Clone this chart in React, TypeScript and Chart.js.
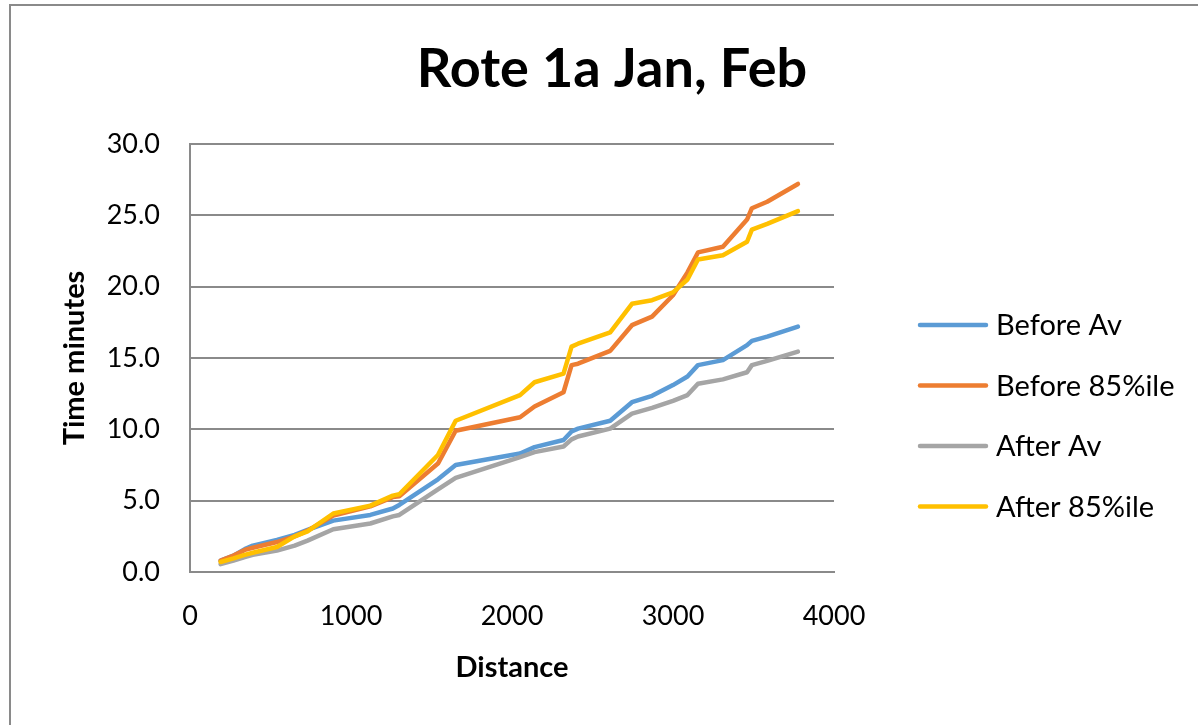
import React, { useEffect, useRef } from "react";
import { Chart, registerables } from "chart.js";

Chart.register(...registerables);

const TITLE = "Rote 1a Jan, Feb";
const X_TITLE = "Distance";
const Y_TITLE = "Time minutes";

const distance = [190, 270, 340, 390, 540, 650, 730, 890, 1120, 1260, 1300, 1540, 1650, 2050, 2140, 2320, 2370, 2410, 2610, 2745, 2870, 3000, 3090, 3155, 3310, 3460, 3490, 3585, 3776];
const beforeAv = [0.8, 1.15, 1.6, 1.85, 2.25, 2.6, 2.95, 3.6, 4.0, 4.45, 4.7, 6.5, 7.5, 8.3, 8.75, 9.25, 9.85, 10.05, 10.6, 11.9, 12.35, 13.1, 13.7, 14.5, 14.85, 15.9, 16.2, 16.5, 17.2];
const before85 = [0.8, 1.15, 1.55, 1.7, 2.1, 2.5, 2.9, 3.95, 4.6, 5.25, 5.3, 7.6, 9.9, 10.85, 11.6, 12.6, 14.5, 14.6, 15.5, 17.3, 17.9, 19.4, 21.0, 22.4, 22.8, 24.7, 25.5, 25.95, 27.2];
const afterAv = [0.55, 0.8, 1.05, 1.2, 1.5, 1.85, 2.2, 3.0, 3.4, 3.9, 4.0, 5.8, 6.6, 8.05, 8.4, 8.8, 9.3, 9.5, 10.05, 11.1, 11.5, 12.0, 12.4, 13.2, 13.5, 14.0, 14.5, 14.8, 15.45];
const after85 = [0.7, 0.95, 1.2, 1.35, 1.75, 2.5, 2.85, 4.1, 4.65, 5.35, 5.45, 8.2, 10.6, 12.4, 13.3, 13.9, 15.8, 16.0, 16.8, 18.8, 19.05, 19.6, 20.5, 21.9, 22.2, 23.15, 24.0, 24.4, 25.3];

const seriesLabels = ["Before Av", "Before 85%ile", "After Av", "After 85%ile"];
const seriesValues = [beforeAv, before85, afterAv, after85];
const seriesColors = ["#5B9BD5", "#ED7D31", "#A5A5A5", "#FFC000"];

const X_MIN = 0, X_MAX = 4000, X_STEP = 1000;
const Y_MIN = 0, Y_MAX = 30, Y_STEP = 5;

const FONT = "Lato, 'Open Sans', sans-serif";
const GRID = "#8a8a8a";

const decorPlugin = {
  id: "decor",
  afterDraw(chart: any) {
    const ctx = chart.ctx;
    ctx.save();
    // outer chart border (cropped at right/bottom)
    ctx.strokeStyle = GRID;
    ctx.lineWidth = 2;
    ctx.beginPath();
    ctx.moveTo(10, 740);
    ctx.lineTo(10, 5);
    ctx.lineTo(1210, 5);
    ctx.stroke();
    // title
    ctx.fillStyle = "#000";
    ctx.font = `bold 54px ${FONT}`;
    ctx.textAlign = "center";
    ctx.textBaseline = "middle";
    ctx.fillText(TITLE, 612, 70);
    // legend
    ctx.font = `29px ${FONT}`;
    ctx.textAlign = "left";
    ctx.lineCap = "round";
    chart.data.datasets.forEach((ds: any, i: number) => {
      const y = 325 + i * 60.5;
      ctx.strokeStyle = ds.borderColor;
      ctx.lineWidth = 4.5;
      ctx.beginPath();
      ctx.moveTo(920, y);
      ctx.lineTo(986, y);
      ctx.stroke();
      ctx.fillStyle = "#000";
      ctx.fillText(ds.label, 996, y + 1);
    });
    ctx.restore();
  },
};

export default function App() {
  const ref = useRef<HTMLCanvasElement>(null);
  useEffect(() => {
    if (!ref.current) return;
    const chart = new Chart(ref.current, {
      type: "line",
      data: {
        datasets: seriesLabels.map((label, i) => ({
          label,
          data: distance.map((d, j) => ({ x: d, y: seriesValues[i][j] })),
          borderColor: seriesColors[i],
          backgroundColor: seriesColors[i],
          borderWidth: 4.5,
          pointRadius: 0,
          tension: 0,
          borderJoinStyle: "round" as const,
          borderCapStyle: "round" as const,
          order: 4 - i,
        })),
      },
      options: {
        responsive: false,
        animation: false,
        layout: { padding: { left: 0, top: 144, right: 364, bottom: 0 } },
        plugins: { legend: { display: false }, title: { display: false }, tooltip: { enabled: false } },
        scales: {
          x: {
            type: "linear",
            min: X_MIN,
            max: X_MAX,
            afterFit: (s: any) => { s.height = 153; },
            ticks: { stepSize: X_STEP, color: "#000", font: { family: FONT, size: 27 }, padding: 28, maxRotation: 0, callback: (v: any) => String(v) },
            grid: { display: false, drawTicks: false },
            border: { display: true, color: GRID, width: 2 },
            title: { display: true, text: X_TITLE, color: "#000", font: { family: FONT, size: 29, weight: "bold" }, padding: { top: 0, bottom: 40 } },
          },
          y: {
            type: "linear",
            min: Y_MIN,
            max: Y_MAX,
            afterFit: (s: any) => { s.width = 190; },
            ticks: { stepSize: Y_STEP, color: "#000", font: { family: FONT, size: 27 }, padding: 30, callback: (v: any) => Number(v).toFixed(1) },
            grid: { color: GRID, lineWidth: 2, drawTicks: false },
            border: { display: true, color: GRID, width: 2 },
            title: { display: true, text: Y_TITLE, color: "#000", font: { family: FONT, size: 29, weight: "bold" }, padding: { top: 57, bottom: 0 } },
          },
        },
      },
      plugins: [decorPlugin],
    });
    return () => chart.destroy();
  }, []);
  return (
    <div style={{ position: "fixed", left: 0, top: 0, width: 1198, height: 725, background: "#fff" }}>
      <canvas ref={ref} width={1198} height={725} style={{ display: "block" }} />
    </div>
  );
}
